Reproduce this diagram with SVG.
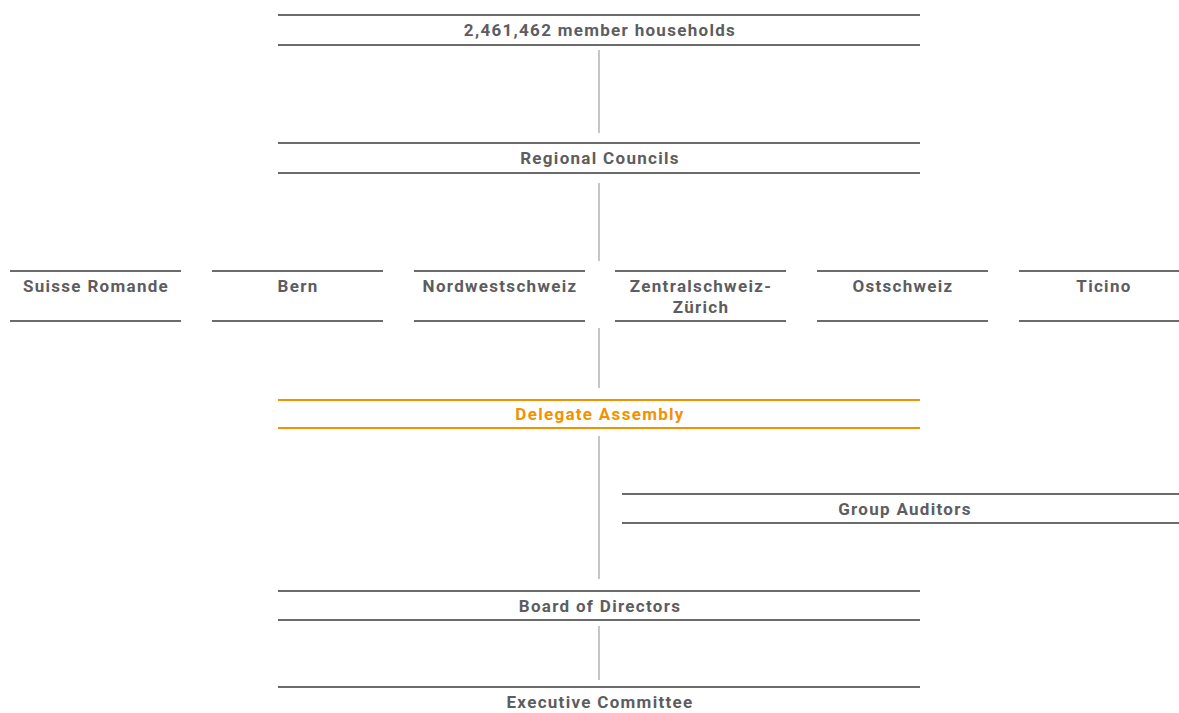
<svg xmlns="http://www.w3.org/2000/svg" width="1179" height="713" viewBox="0 0 1179 713">
<style>
.rule{stroke:#6b6b6b;stroke-width:2;fill:none}
.orule{stroke:#f39200;stroke-width:2;fill:none}
.conn{stroke:#c6c6c6;stroke-width:2;fill:none}
.t{font-family:"Roboto","Liberation Sans",sans-serif;font-weight:bold;font-size:17px;fill:#5d5d5f;text-anchor:middle;letter-spacing:1.3px}
.ot{fill:#f39200}
</style>
<rect width="1179" height="713" fill="#ffffff"/>
<g id="connectors">
<line class="conn" x1="599" y1="50" x2="599" y2="133"/>
<line class="conn" x1="599" y1="183" x2="599" y2="261"/>
<line class="conn" x1="599" y1="328" x2="599" y2="388"/>
<line class="conn" x1="599" y1="436" x2="599" y2="579"/>
<line class="conn" x1="599" y1="626" x2="599" y2="680"/>
</g>
<g id="members">
<line class="rule" x1="278" y1="15" x2="920" y2="15"/>
<line class="rule" x1="278" y1="45" x2="920" y2="45"/>
<text class="t" x="600" y="36">2,461,462 member households</text>
</g>
<g id="regional-councils">
<line class="rule" x1="278" y1="143" x2="920" y2="143"/>
<line class="rule" x1="278" y1="173" x2="920" y2="173"/>
<text class="t" x="600" y="164">Regional Councils</text>
</g>
<g id="suisse-romande">
<line class="rule" x1="10" y1="271" x2="181" y2="271"/>
<line class="rule" x1="10" y1="321" x2="181" y2="321"/>
<text class="t" x="96" y="292">Suisse Romande</text>
</g>
<g id="bern">
<line class="rule" x1="212" y1="271" x2="383" y2="271"/>
<line class="rule" x1="212" y1="321" x2="383" y2="321"/>
<text class="t" x="298" y="292">Bern</text>
</g>
<g id="nordwestschweiz">
<line class="rule" x1="414" y1="271" x2="585" y2="271"/>
<line class="rule" x1="414" y1="321" x2="585" y2="321"/>
<text class="t" x="500" y="292">Nordwestschweiz</text>
</g>
<g id="zentralschweiz-zuerich">
<line class="rule" x1="615" y1="271" x2="786" y2="271"/>
<line class="rule" x1="615" y1="321" x2="786" y2="321"/>
<text class="t" x="701" y="292">Zentralschweiz-</text>
<text class="t" x="701" y="313">Zürich</text>
</g>
<g id="ostschweiz">
<line class="rule" x1="817" y1="271" x2="988" y2="271"/>
<line class="rule" x1="817" y1="321" x2="988" y2="321"/>
<text class="t" x="903" y="292">Ostschweiz</text>
</g>
<g id="ticino">
<line class="rule" x1="1019" y1="271" x2="1179" y2="271"/>
<line class="rule" x1="1019" y1="321" x2="1179" y2="321"/>
<text class="t" x="1104" y="292">Ticino</text>
</g>
<g id="delegate-assembly">
<line class="orule" x1="278" y1="400" x2="920" y2="400"/>
<line class="orule" x1="278" y1="428" x2="920" y2="428"/>
<text class="t ot" x="600" y="420">Delegate Assembly</text>
</g>
<g id="group-auditors">
<line class="rule" x1="622" y1="494" x2="1179" y2="494"/>
<line class="rule" x1="622" y1="523" x2="1179" y2="523"/>
<text class="t" x="905" y="515">Group Auditors</text>
</g>
<g id="board-of-directors">
<line class="rule" x1="278" y1="591" x2="920" y2="591"/>
<line class="rule" x1="278" y1="620" x2="920" y2="620"/>
<text class="t" x="600" y="612">Board of Directors</text>
</g>
<g id="executive-committee">
<line class="rule" x1="278" y1="687" x2="920" y2="687"/>
<text class="t" x="600" y="708">Executive Committee</text>
</g>
</svg>
